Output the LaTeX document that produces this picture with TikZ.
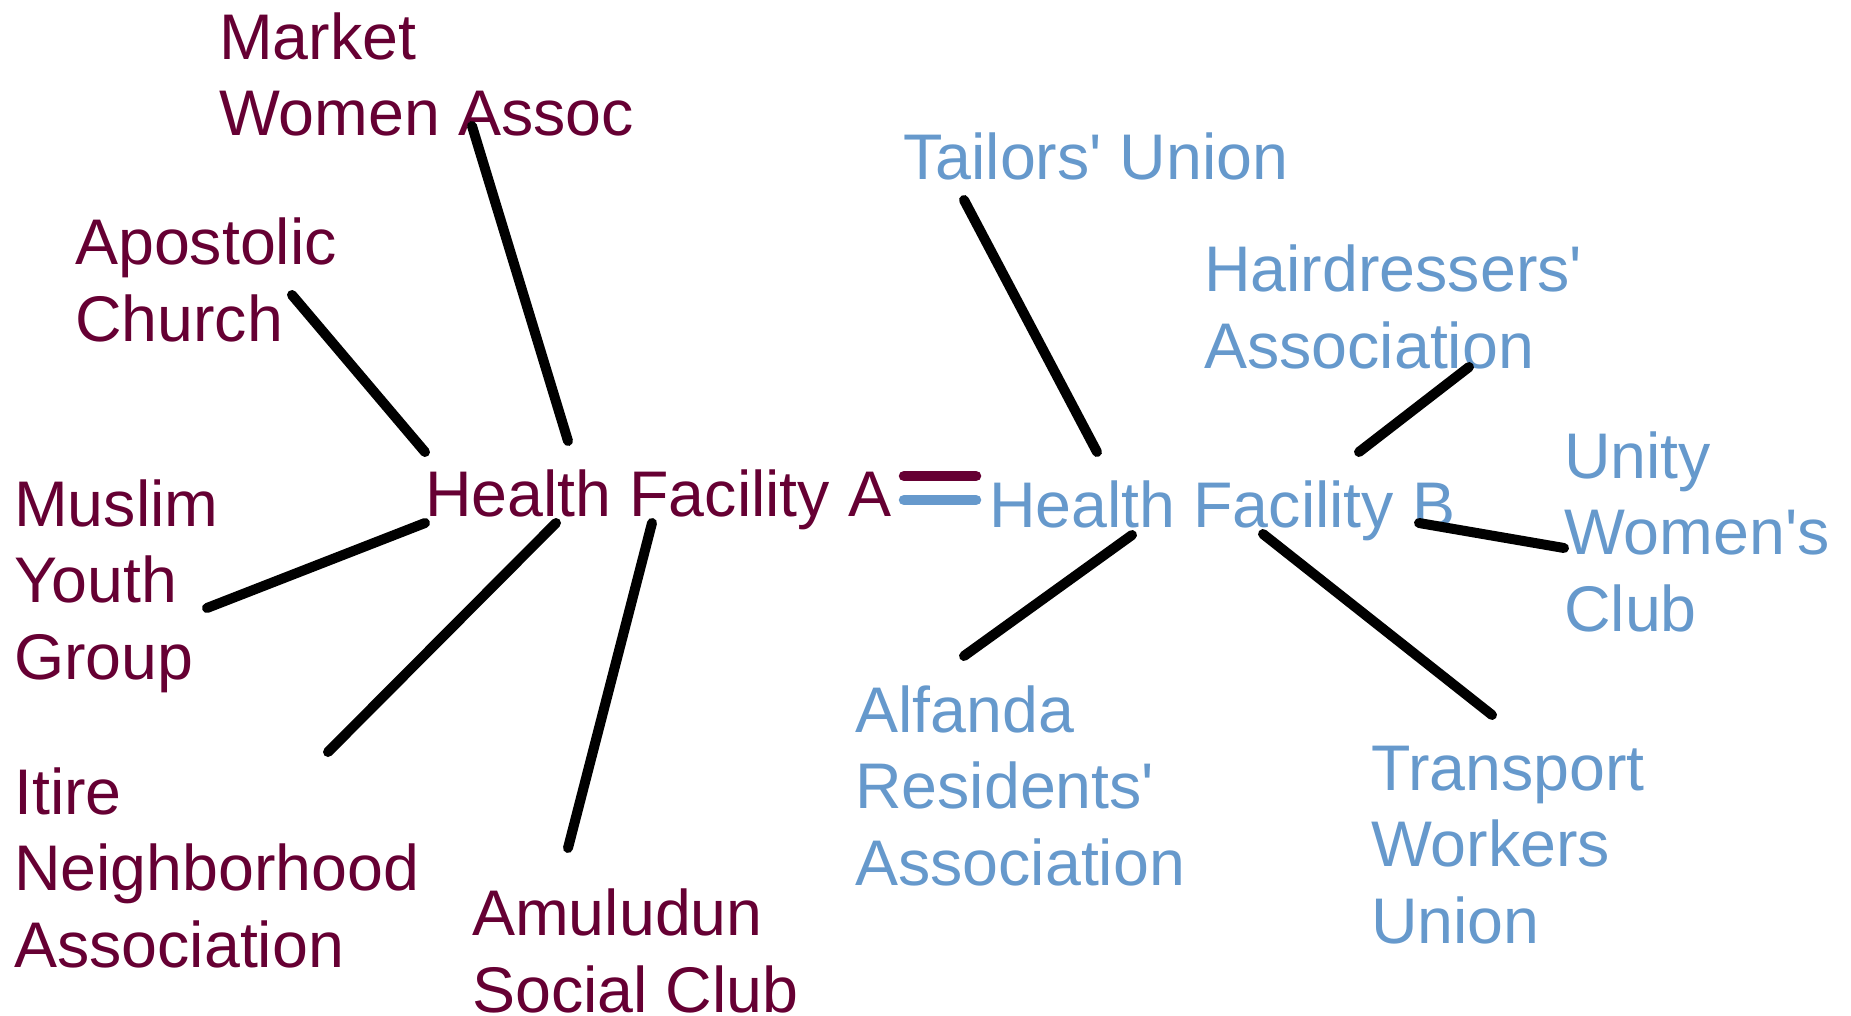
\documentclass[tikz,border=0pt]{standalone}
\usepackage{fontspec}
\setmainfont{Liberation Sans}
\definecolor{maroonA}{HTML}{660033}
\definecolor{blueB}{HTML}{6699CC}
\newcommand{\apos}{\textquotesingle}
\tikzset{
  lbl/.style={anchor=base west, inner sep=0pt, align=left, font={\fontsize{64.5}{76.5}\selectfont}},
  lblA/.style={lbl, text=maroonA},
  lblB/.style={lbl, text=blueB},
  link/.style={draw=black, line width=10pt, line cap=round},
  bar/.style={line width=10.5pt, line cap=round}
}
\begin{document}
\begin{tikzpicture}[x=1pt,y=-1pt]
\useasboundingbox (0,0) rectangle (1851,1016);
% Facility A side (anchor = baseline of last line)
\node[lblA] (hfa) at (425,516) {Health Facility A};
\node[lblA] (mwa) at (219,136) {Market\\Women Assoc};
\node[lblA] (apc) at (75,341) {Apostolic\\Church};
\node[lblA] (myg) at (14,679) {Muslim\\Youth\\Group};
\node[lblA] (ina) at (14,967) {Itire\\Neighborhood\\Association};
\node[lblA] (asc) at (472,1012) {Amuludun\\Social Club};
% Facility B side
\node[lblB] (hfb) at (989,527) {Health Facility B};
\node[lblB] (tlu) at (903,180) {Tailors\apos{} Union};
\node[lblB] (hda) at (1204,368) {Hairdressers\apos\\Association};
\node[lblB] (uwc) at (1564,631) {Unity\\Women\apos{}s\\Club};
\node[lblB] (ara) at (855,885) {Alfanda\\Residents\apos\\Association};
\node[lblB] (twu) at (1371,943) {Transport\\Workers\\Union};
% connector end points
\coordinate (mwa1) at (472,126); \coordinate (mwa2) at (568,441);
\coordinate (apc1) at (292,295); \coordinate (apc2) at (425,452);
\coordinate (myg1) at (207,608); \coordinate (myg2) at (425,523);
\coordinate (ina1) at (328,752); \coordinate (ina2) at (556,523);
\coordinate (asc1) at (568,848); \coordinate (asc2) at (652,523);
\coordinate (tlu1) at (964,200); \coordinate (tlu2) at (1097,452);
\coordinate (hda1) at (1469,367); \coordinate (hda2) at (1359,452);
\coordinate (uwc1) at (1564,548); \coordinate (uwc2) at (1419,523);
\coordinate (ara1) at (964,656); \coordinate (ara2) at (1132,535);
\coordinate (twu1) at (1492,715); \coordinate (twu2) at (1263,534);
\draw[link] (mwa1) -- (mwa2);
\draw[link] (apc1) -- (apc2);
\draw[link] (myg1) -- (myg2);
\draw[link] (ina1) -- (ina2);
\draw[link] (asc1) -- (asc2);
\draw[link] (tlu1) -- (tlu2);
\draw[link] (hda1) -- (hda2);
\draw[link] (uwc1) -- (uwc2);
\draw[link] (ara1) -- (ara2);
\draw[link] (twu1) -- (twu2);
% equality bars between the facilities
\coordinate (eqa1) at (904,476); \coordinate (eqa2) at (976,476);
\coordinate (eqb1) at (904,500); \coordinate (eqb2) at (976,500);
\draw[bar, draw=maroonA] (eqa1) -- (eqa2);
\draw[bar, draw=blueB] (eqb1) -- (eqb2);
\end{tikzpicture}
\end{document}
